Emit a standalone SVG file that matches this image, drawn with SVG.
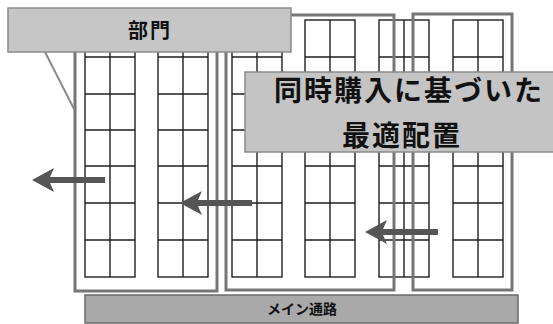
<svg xmlns="http://www.w3.org/2000/svg" xmlns:xlink="http://www.w3.org/1999/xlink" width="553" height="324" viewBox="0 0 553 324">
  <style>
    .dept { fill: none; stroke: #767676; stroke-width: 3; }
    .shelf { fill: none; stroke: #1e1e1e; stroke-width: 1.4; }
    .label { stroke: #8a8a8a; stroke-width: 1.5; }
    .arrow { fill: #555555; }
    .jp { font-family: "Noto Sans CJK JP", "Noto Sans CJK SC", sans-serif; fill: #111; }
  </style>
  <defs>
    <g id="shelf" class="shelf">
      <rect x="0" y="0" width="50" height="257"/>
      <path d="M25,0 V257 M0,37 H50 M0,74 H50 M0,110 H50 M0,146 H50 M0,183 H50 M0,220 H50"/>
    </g>
  </defs>
  <rect width="553" height="324" fill="#ffffff"/>

  <g id="dept1">
    <use xlink:href="#shelf" x="85" y="20"/>
    <use xlink:href="#shelf" x="158" y="20"/>
    <rect class="dept" x="75" y="14" width="142" height="277"/>
  </g>

  <g id="dept2">
    <use xlink:href="#shelf" x="232" y="20"/>
    <use xlink:href="#shelf" x="305" y="20"/>
    <use xlink:href="#shelf" x="379" y="20"/>
    <rect class="dept" x="226" y="15" width="168" height="275"/>
  </g>

  <g id="dept3">
    <use xlink:href="#shelf" x="453" y="20"/>
    <rect class="dept" x="413" y="14" width="99" height="276"/>
  </g>

  <g id="label-bumon">
    <line x1="45" y1="52" x2="74" y2="109" stroke="#8a8a8a" stroke-width="2"/>
    <rect class="label" x="8" y="8" width="283" height="44" fill="#c6c6c6"/>
    <text class="jp" x="150" y="38" font-size="20" font-weight="bold" text-anchor="middle" letter-spacing="2">部門</text>
  </g>

  <g id="label-optimal">
    <rect class="label" x="245" y="72" width="312" height="80" fill="#c4c4c4"/>
    <text class="jp" x="409" y="101" font-size="28" font-weight="bold" text-anchor="middle" letter-spacing="2">同時購入に基づいた</text>
    <text class="jp" x="402" y="146" font-size="28" font-weight="bold" text-anchor="middle" letter-spacing="2">最適配置</text>
  </g>

  <g id="aisle">
    <rect x="85" y="295" width="433" height="28" fill="#a9a9a9" stroke="#6a6a6a" stroke-width="1.5"/>
    <text class="jp" x="302" y="314" font-size="14" font-weight="bold" text-anchor="middle">メイン通路</text>
  </g>

  <g id="connectors">
    <path class="arrow" transform="translate(32,180)" d="M0,0 L22,-12 L18,-3 L73,-3 L73,3 L18,3 L22,12 Z"/>
    <path class="arrow" transform="translate(180,203)" d="M0,0 L22,-12 L18,-3 L72,-3 L72,3 L18,3 L22,12 Z"/>
    <path class="arrow" transform="translate(365,232)" d="M0,0 L22,-12 L18,-3 L73,-3 L73,3 L18,3 L22,12 Z"/>
  </g>
</svg>
